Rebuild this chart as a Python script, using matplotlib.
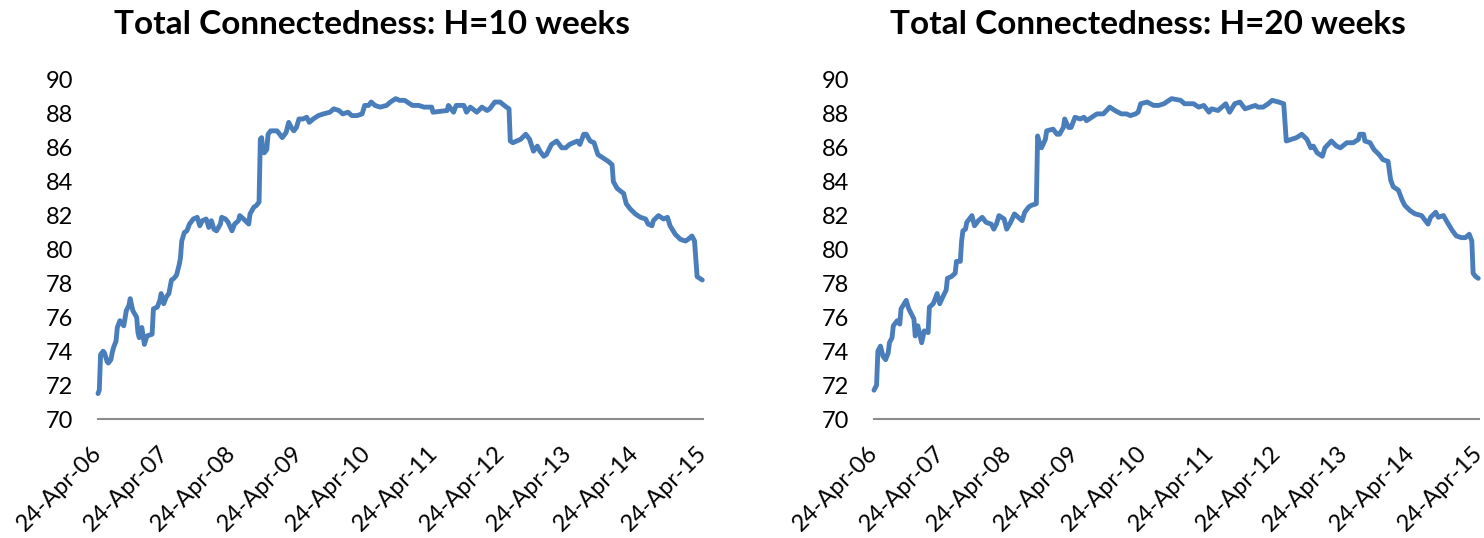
import numpy as np
import pandas as pd
import matplotlib
matplotlib.use("Agg")
import matplotlib.pyplot as plt

plt.rcParams['font.family'] = ['Lato', 'DejaVu Sans']

start_date = "2006-04-24"
tick_labels = ["24-Apr-06", "24-Apr-07", "24-Apr-08", "24-Apr-09", "24-Apr-10",
               "24-Apr-11", "24-Apr-12", "24-Apr-13", "24-Apr-14", "24-Apr-15"]
titles = ["Total Connectedness: H=10 weeks", "Total Connectedness: H=20 weeks"]

# weeks since 24-Apr-06 and values, H=10
h10_weeks = [0, 1, 2, 4, 5, 7, 8, 10, 11, 12, 14, 15, 17, 18, 20, 22, 24, 25, 27, 30,
             31, 32, 34, 35, 36, 38, 42, 43, 46, 48, 49, 51, 53, 55, 57, 59, 61, 63, 64, 65,
             67, 69, 71, 74, 77, 79, 81, 84, 86, 88, 90, 92, 95, 96, 99, 101, 104, 106, 109, 110,
             113, 117, 118, 121, 123, 125, 126, 127, 128, 129, 131, 132, 134, 139, 143, 146, 148, 150, 152, 154,
             156, 159, 162, 164, 167, 171, 175, 180, 183, 187, 190, 194, 197, 201, 205, 207, 210, 212, 215, 219,
             224, 227, 231, 234, 238, 244, 249, 253, 259, 260, 271, 272, 276, 278, 284, 286, 289, 294, 298, 302,
             304, 308, 312, 317, 319, 320, 322, 328, 332, 335, 338, 341, 343, 346, 348, 352, 356, 360, 363, 366,
             372, 374, 377, 379, 382, 385, 388, 392, 396, 399, 400, 403, 408, 410, 413, 417, 421, 425, 427, 430,
             431, 435, 439, 442, 444, 448, 452, 456, 458, 461, 463, 465, 467, 469]
h10_vals = [71.5, 71.7, 73.8, 74.0, 73.9, 73.4, 73.3, 73.5, 73.9, 74.2, 74.6, 75.4, 75.8, 75.7, 75.5, 76.4, 76.7, 77.1, 76.4, 76.0,
            75.1, 74.8, 75.4, 74.9, 74.4, 74.9, 75.0, 76.5, 76.6, 77.0, 77.4, 76.8, 77.2, 77.4, 78.2, 78.3, 78.5, 79.1, 79.5, 80.5,
            81.0, 81.1, 81.5, 81.8, 81.9, 81.4, 81.7, 81.8, 81.3, 81.7, 81.2, 81.1, 81.5, 81.9, 81.8, 81.6, 81.1, 81.5, 81.7, 82.0,
            81.8, 81.5, 82.1, 82.5, 82.6, 82.8, 86.5, 86.6, 85.9, 85.7, 85.9, 86.8, 87.0, 87.0, 86.6, 86.9, 87.5, 87.2, 87.0, 87.2,
            87.7, 87.7, 87.8, 87.5, 87.7, 87.9, 88.0, 88.1, 88.3, 88.2, 88.0, 88.1, 87.9, 87.9, 88.0, 88.5, 88.5, 88.7, 88.5, 88.4,
            88.5, 88.7, 88.9, 88.8, 88.8, 88.5, 88.5, 88.4, 88.4, 88.1, 88.2, 88.5, 88.1, 88.5, 88.5, 88.1, 88.4, 88.1, 88.4, 88.2,
            88.3, 88.7, 88.7, 88.4, 88.3, 86.4, 86.3, 86.5, 86.8, 86.5, 85.8, 86.1, 85.8, 85.5, 85.6, 86.2, 86.4, 86.0, 86.0, 86.2,
            86.4, 86.2, 86.8, 86.8, 86.4, 86.3, 85.6, 85.4, 85.2, 85.0, 84.0, 83.6, 83.3, 82.7, 82.4, 82.1, 81.9, 81.8, 81.5, 81.4,
            81.7, 82.0, 81.8, 81.9, 81.4, 80.9, 80.6, 80.5, 80.6, 80.8, 80.5, 78.4, 78.3, 78.2]

# weeks since 24-Apr-06 and values, H=20
h20_weeks = [0, 2, 3, 5, 7, 9, 11, 12, 14, 15, 18, 20, 21, 25, 27, 29, 31, 32, 34, 37,
             39, 42, 43, 46, 49, 51, 54, 56, 57, 60, 63, 64, 67, 68, 69, 71, 72, 76, 78, 81,
             84, 87, 91, 93, 95, 97, 101, 103, 106, 109, 112, 115, 117, 120, 122, 126, 127, 128, 130, 133,
             134, 139, 142, 144, 147, 148, 151, 153, 156, 160, 163, 165, 169, 173, 178, 183, 187, 192, 196, 199,
             203, 205, 207, 212, 217, 221, 225, 231, 238, 241, 248, 252, 256, 260, 262, 267, 273, 276, 280, 284,
             288, 292, 296, 298, 302, 306, 309, 314, 318, 320, 324, 328, 332, 336, 339, 341, 344, 348, 350, 355,
             359, 362, 367, 372, 376, 377, 380, 381, 385, 388, 392, 395, 399, 401, 403, 407, 410, 412, 416, 420,
             425, 428, 430, 432, 436, 438, 442, 445, 449, 452, 456, 459, 462, 464, 465, 467, 469]
h20_vals = [71.7, 72.0, 74.0, 74.3, 73.7, 73.5, 73.9, 74.5, 74.8, 75.5, 75.8, 75.6, 76.5, 77.0, 76.5, 76.2, 75.9, 74.9, 75.5, 74.5,
            75.2, 75.1, 76.6, 76.8, 77.4, 76.8, 77.3, 77.6, 78.3, 78.4, 78.6, 79.3, 79.3, 80.5, 81.1, 81.2, 81.6, 82.0, 81.4, 81.7,
            81.9, 81.6, 81.5, 81.2, 81.5, 82.0, 81.8, 81.2, 81.6, 82.1, 81.9, 81.7, 82.2, 82.5, 82.6, 82.7, 86.7, 86.4, 86.0, 86.5,
            87.0, 87.1, 86.8, 86.8, 87.2, 87.7, 87.2, 87.2, 87.8, 87.7, 87.8, 87.6, 87.8, 88.0, 88.0, 88.4, 88.2, 88.0, 88.0, 87.9,
            88.0, 88.1, 88.6, 88.7, 88.5, 88.5, 88.6, 88.9, 88.8, 88.6, 88.6, 88.4, 88.5, 88.1, 88.3, 88.2, 88.6, 88.1, 88.6, 88.7,
            88.3, 88.4, 88.5, 88.4, 88.4, 88.6, 88.8, 88.7, 88.6, 86.4, 86.5, 86.6, 86.8, 86.5, 86.0, 86.1, 85.7, 85.5, 86.0, 86.4,
            86.1, 86.0, 86.3, 86.3, 86.5, 86.8, 86.8, 86.4, 86.3, 85.9, 85.6, 85.3, 85.2, 84.1, 83.7, 83.5, 82.9, 82.6, 82.3, 82.1,
            82.0, 81.7, 81.5, 81.9, 82.2, 81.9, 82.0, 81.6, 81.1, 80.8, 80.7, 80.7, 80.9, 80.5, 78.6, 78.4, 78.3]

series = [(h10_weeks, h10_vals), (h20_weeks, h20_vals)]

W, H = 1484, 538
fig = plt.figure(figsize=(W / 100, H / 100), dpi=100)

axes_px = [(98, 703), (874, 1479)]
title_cx = [372, 1148]
top_px, bot_px = 80, 419

t0 = pd.Timestamp(start_date)
tick_dates = [pd.Timestamp(year=2006 + i, month=4, day=24) for i in range(len(tick_labels))]

line_color = "#4A7EBB"

for i, ((x0, x1), (wk, vals)) in enumerate(zip(axes_px, series)):
    ax = fig.add_axes([x0 / W, 1 - bot_px / H, (x1 - x0) / W, (bot_px - top_px) / H])
    dates = [t0 + pd.Timedelta(days=7 * w) for w in wk]
    ax.plot(dates, vals, color=line_color, lw=3.5, solid_capstyle='round',
            solid_joinstyle='round', clip_on=False)
    ax.set_xlim(tick_dates[0], tick_dates[-1])
    ax.set_ylim(70, 90)
    ax.set_yticks(np.arange(70, 91, 2))
    ax.set_yticklabels([str(v) for v in range(70, 91, 2)], fontsize=17)
    ax.set_xticks(tick_dates)
    ax.set_xticklabels(tick_labels, rotation=45, ha='right', va='center',
                       rotation_mode='anchor', fontsize=17)
    for s in ['top', 'right', 'left']:
        ax.spines[s].set_visible(False)
    ax.spines['bottom'].set_color('#8C8C8C')
    ax.spines['bottom'].set_linewidth(1.5)
    ax.tick_params(axis='both', length=0)
    ax.tick_params(axis='y', pad=18)
    ax.tick_params(axis='x', pad=22)
    ax.patch.set_alpha(0)
    fig.text(title_cx[i] / W, 1 - 24 / H, titles[i], ha='center', va='center',
             fontsize=24, fontweight='bold')

fig.savefig("out.png", dpi=100)
